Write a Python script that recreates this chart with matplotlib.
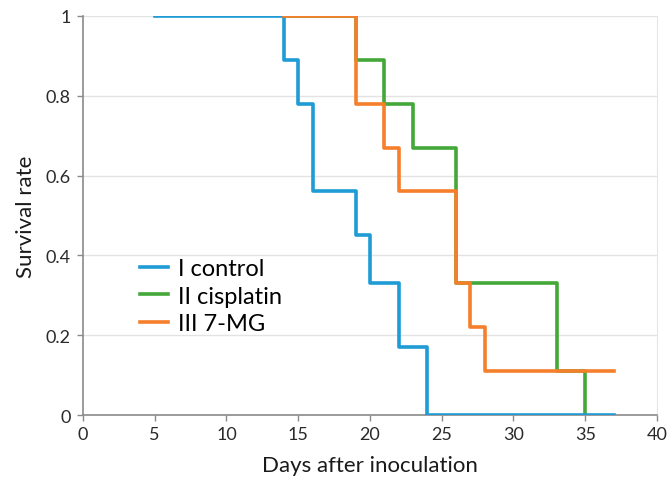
import matplotlib
matplotlib.use("Agg")
import matplotlib.pyplot as plt

plt.rcParams['font.family'] = ['Lato', 'DejaVu Sans']

control_days = [5, 14, 15, 16, 19, 20, 22, 24, 37]
control_surv = [1.0, 0.89, 0.78, 0.56, 0.45, 0.33, 0.17, 0.0, 0.0]

cisplatin_days = [14, 19, 21, 23, 26, 33, 35, 35]
cisplatin_surv = [1.0, 0.89, 0.78, 0.67, 0.33, 0.11, 0.0, 0.0]

mg_days = [14, 19, 21, 22, 26, 27, 28, 37]
mg_surv = [1.0, 0.78, 0.67, 0.56, 0.33, 0.22, 0.11, 0.11]

labels = ["I control", "II cisplatin", "III 7-MG"]
colors = ["#1f9bd6", "#43a838", "#f57f2a"]

fig = plt.figure(figsize=(6.69, 4.81), dpi=100)
ax = fig.add_axes([0.124, 0.135, 0.858, 0.83])

lw = 2.6
l1, = ax.step(control_days, control_surv, where='post', color=colors[0], lw=lw, zorder=3, label=labels[0])
l2, = ax.step(cisplatin_days, cisplatin_surv, where='post', color=colors[1], lw=lw, zorder=2, label=labels[1])
l3, = ax.step(mg_days, mg_surv, where='post', color=colors[2], lw=lw, zorder=4, label=labels[2])

ax.set_xlim(0, 40)
ax.set_ylim(0, 1)
ax.set_xticks(range(0, 41, 5))
ax.set_yticks([0, 0.2, 0.4, 0.6, 0.8, 1])
ax.set_yticklabels(["0", "0.2", "0.4", "0.6", "0.8", "1"])
ax.yaxis.grid(True, color="#e3e3e3", lw=1)
ax.set_axisbelow(True)

ax.spines['top'].set_visible(False)
ax.spines['right'].set_color("#e6e6e6")
ax.spines['left'].set_color("#8a8a8a")
ax.spines['bottom'].set_color("#8a8a8a")
ax.spines['left'].set_linewidth(1.2)
ax.spines['bottom'].set_linewidth(1.2)
ax.tick_params(axis='both', colors="#8a8a8a", labelcolor="#2a2a2a", labelsize=13, length=4, width=1)
ax.tick_params(axis='x', pad=4)
ax.tick_params(axis='y', pad=5)

ax.set_xlabel("Days after inoculation", fontsize=16, color="#1a1a1a", labelpad=9)
ax.set_ylabel("Survival rate", fontsize=16, color="#1a1a1a", labelpad=7)

ax.legend(handles=[l1, l2, l3], loc='center left', bbox_to_anchor=(0.099, 0.298),
          frameon=False, fontsize=17, handlelength=1.2, handletextpad=0.4,
          labelspacing=0.28, borderaxespad=0, borderpad=0)

fig.savefig("out.png", dpi=100)
